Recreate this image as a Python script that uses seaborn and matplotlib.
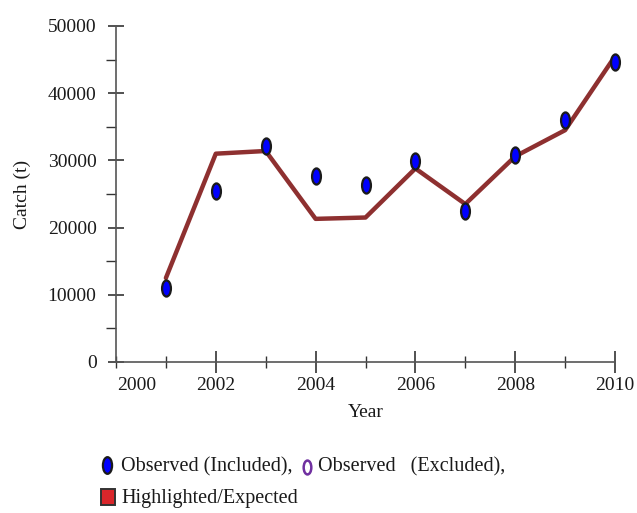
import numpy as np
import pandas as pd
import matplotlib
matplotlib.use("Agg")
import matplotlib.pyplot as plt
import seaborn as sns
from matplotlib.path import Path
from matplotlib.lines import Line2D
from matplotlib.patches import Rectangle
from matplotlib.ticker import MultipleLocator

years = [2001, 2002, 2003, 2004, 2005, 2006, 2007, 2008, 2009, 2010]
observed = [11000, 25400, 32100, 27700, 26300, 29900, 22400, 30800, 36000, 44600]
expected = [12500, 31000, 31400, 21300, 21500, 28800, 23500, 30600, 34500, 45500]
x_tick_labels = ["2000", "2002", "2004", "2006", "2008", "2010"]
y_ticks = [0, 10000, 20000, 30000, 40000, 50000]

df = pd.DataFrame({"Year": years, "Observed": observed, "Expected": expected})

sns.set_style("ticks")
plt.rcParams['font.family'] = ['Liberation Serif', 'DejaVu Serif']

fig = plt.figure(figsize=(6.37, 5.13), dpi=100)
ax = fig.add_axes([116/637, 1-362/513, (615-116)/637, (362-26)/513])

uc = Path.unit_circle()
ellipse = Path(uc.vertices * np.array([0.55, 1.0]), uc.codes)

line_col = "#8e3030"
sns.lineplot(data=df, x="Year", y="Expected", ax=ax, color=line_col, lw=3.2, zorder=2)
sns.scatterplot(data=df, x="Year", y="Observed", ax=ax, marker=ellipse, s=135,
                color="#0000ff", edgecolor="#1a1a1a", linewidth=1.6, zorder=3, clip_on=False)

ax.set_xlim(2000, 2010)
ax.set_ylim(0, 50000)
# first label sits slightly inside the axis origin, as in the reference
ax.set_xticks([2000.42, 2002, 2004, 2006, 2008, 2010])
ax.set_xticklabels(x_tick_labels)
ax.xaxis.get_major_ticks()[0].tick1line.set_visible(False)
ax.xaxis.get_major_ticks()[0].tick2line.set_visible(False)
ax.xaxis.set_minor_locator(MultipleLocator(1))
ax.set_yticks(y_ticks)
ax.set_yticklabels([str(t) for t in y_ticks])
ax.yaxis.set_minor_locator(MultipleLocator(5000))

spine_col = "#555555"
for s in ["top", "right"]:
    ax.spines[s].set_visible(False)
for s in ["left", "bottom"]:
    ax.spines[s].set_color(spine_col)
    ax.spines[s].set_linewidth(1.2)

txt_col = "#1a1a1a"
fs = 14
ax.tick_params(axis="x", which="major", direction="inout", length=16, width=1.2,
               color="#333333", labelsize=fs, pad=3, labelcolor=txt_col)
ax.tick_params(axis="x", which="minor", direction="inout", length=9, width=1.0, color="#333333")
ax.tick_params(axis="y", which="major", direction="inout", length=12, width=1.2,
               color="#333333", labelsize=fs, pad=8, labelcolor=txt_col)
ax.tick_params(axis="y", which="minor", direction="out", length=7, width=1.0, color="#333333")

ax.set_xlabel("Year", fontsize=fs, color=txt_col, labelpad=7)
ax.set_ylabel("Catch (t)", fontsize=fs, color=txt_col, labelpad=12)

# Custom legend beneath the chart
def fx(px):
    return px / 637
def fy(py):
    return 1 - py / 513

fig.add_artist(Line2D([fx(107)], [fy(465)], transform=fig.transFigure, marker=ellipse,
                      markersize=12, markerfacecolor="#0000ff", markeredgecolor="#1a1a1a",
                      markeredgewidth=1.6, linestyle="none"))
fig.text(fx(121), fy(467), "Observed (Included),", fontsize=fs + 0.5, va="center", ha="left", color=txt_col)
fig.add_artist(Line2D([fx(307)], [fy(467)], transform=fig.transFigure, marker=ellipse,
                      markersize=10, markerfacecolor="none", markeredgecolor="#7030a0",
                      markeredgewidth=1.8, linestyle="none"))
fig.text(fx(318), fy(467), "Observed   (Excluded),", fontsize=fs + 0.5, va="center", ha="left", color=txt_col)
fig.add_artist(Rectangle((fx(101), fy(505)), fx(14), 16/513, transform=fig.transFigure,
                         facecolor="#d9262b", edgecolor="#333333", linewidth=1.4))
fig.text(fx(121), fy(499), "Highlighted/Expected", fontsize=fs + 0.5, va="center", ha="left", color=txt_col)

fig.savefig("out.png", dpi=100)
